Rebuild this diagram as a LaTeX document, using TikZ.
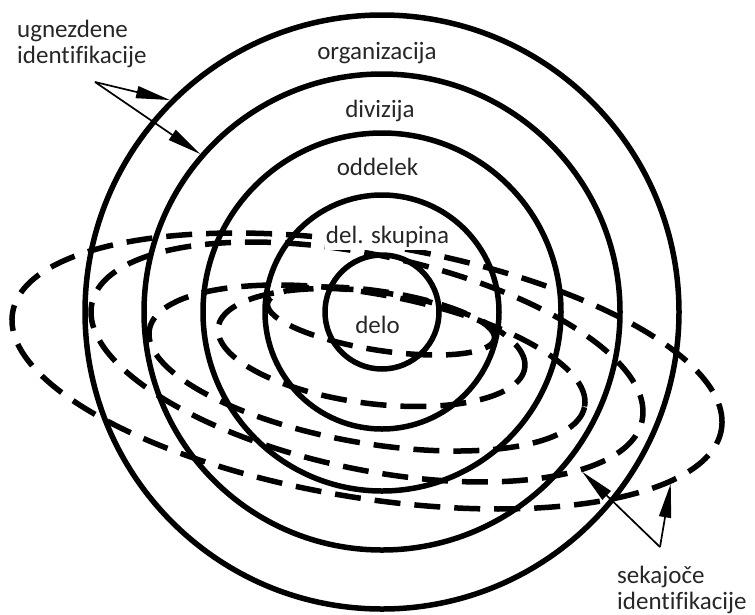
\documentclass[tikz,border=0pt]{standalone}
\usepackage{fontspec}
\setmainfont{Carlito}[Ligatures=NoCommon]
\usetikzlibrary{arrows.meta,shapes.geometric}
\begin{document}
\begin{tikzpicture}[x=1pt,y=-1pt,
  ring/.style={circle,draw,line width=5.5pt,inner sep=0pt,minimum size=#1},
  cross/.style={ellipse,draw,line width=5.5pt,dash pattern=on 26pt off 14pt,inner sep=0pt},
  lbl/.style={font=\fontsize{25}{26}\selectfont,text=black!85,inner sep=0pt},
  pointer/.style={line width=1.7pt,-{Triangle[length=34pt,width=12pt]}}]
\useasboundingbox (0,0) rectangle (755,614);
% nested circles
\node[ring=594pt] (org) at (382,312) {};
\node[ring=476pt] (div) at (382,312) {};
\node[ring=358pt] (odd) at (382,312) {};
\node[ring=234pt] (dsk) at (382,312) {};
\node[ring=114pt] (job) at (382,312) {};
% cross-cutting ellipses
\node[cross,rotate=-8.86,minimum width=229.6pt,minimum height=58.8pt] (e0) at (381,321) {};
\node[cross,rotate=-7.49,minimum width=309.2pt,minimum height=111.8pt] (e1) at (371.5,347.5) {};
\node[cross,rotate=-10.02,minimum width=442pt,minimum height=149.4pt] (e2) at (367,368) {};
\node[cross,rotate=-12.03,minimum width=562.6pt,minimum height=214pt] (e3) at (367,362) {};
\node[cross,rotate=-9.35,minimum width=718.4pt,minimum height=253.4pt] (e4) at (367,371) {};
% labels
\node[lbl,anchor=base] (torg) at (377,59) {organizacija};
\node[lbl,anchor=base] (tdiv) at (380,117) {divizija};
\node[lbl,anchor=base] (todd) at (377.5,175) {oddelek};
\node[lbl,anchor=base,fill=white,inner xsep=1pt,inner ysep=3pt] (tdsk) at (387.5,243) {del. skupina};
\node[lbl,anchor=base] (tjob) at (377.5,333) {delo};
\node[lbl,align=left,anchor=base west] (tnest) at (17,63) {ugnezdene\\identifikacije};
\node[lbl,align=left,anchor=base west] (tcross) at (617,609) {sekajoče\\identifikacije};
% pointers
\coordinate (nsrc) at (95,82);
\coordinate (csrc) at (660,547);
\draw[pointer] (nsrc) -- (org.135);
\draw[pointer] (nsrc) -- (div.139.8);
\draw[pointer] (csrc) -- (e3.345);
\draw[pointer] (csrc) -- (e4.349);
\end{tikzpicture}
\end{document}
